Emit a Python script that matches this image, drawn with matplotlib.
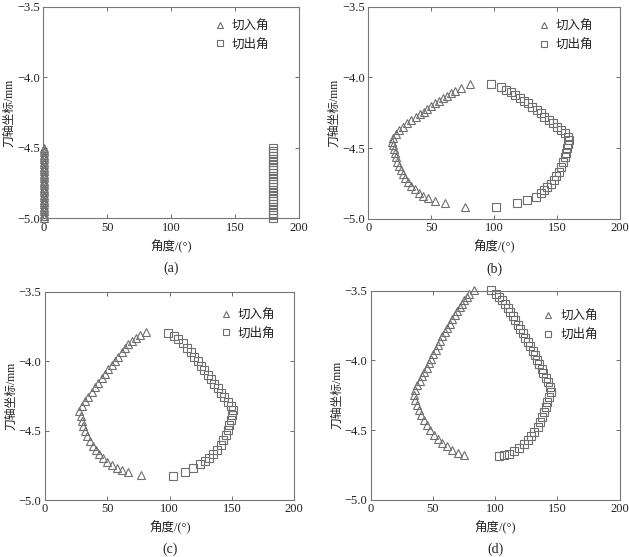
import numpy as np
import matplotlib.pyplot as plt

plt.rcParams['font.family'] = ['Liberation Serif', 'Noto Sans CJK SC']
plt.rcParams['axes.unicode_minus'] = True

# ---- data ----
# (a)
a_in_x = [0.5] * 31
a_in_y = [-4.50, -4.517, -4.533, -4.55, -4.567, -4.583, -4.60, -4.617, -4.633, -4.65,
          -4.667, -4.683, -4.70, -4.717, -4.733, -4.75, -4.767, -4.783, -4.80, -4.817,
          -4.833, -4.85, -4.867, -4.883, -4.90, -4.917, -4.933, -4.95, -4.967, -4.983, -5.00]
a_out_x = [180.0] * 26
a_out_y = [-4.50, -4.52, -4.54, -4.56, -4.58, -4.60, -4.62, -4.64, -4.66, -4.68,
           -4.70, -4.72, -4.74, -4.76, -4.78, -4.80, -4.82, -4.84, -4.86, -4.88,
           -4.90, -4.92, -4.94, -4.96, -4.98, -5.00]

# (b)
b_in_x = [81.1, 73.7, 69.2, 65.8, 62.4, 59.2, 56.1, 52.9, 50.0, 46.9, 44.0, 40.8, 37.7,
          34.3, 30.8, 27.7, 24.5, 21.9, 19.3, 18.5, 19.8, 20.3, 21.1, 21.9, 22.9, 24.2,
          25.8, 27.7, 29.5, 31.6, 34.3, 36.9, 40.0, 43.4, 47.4, 52.7, 60.6, 76.9]
b_in_y = [-4.048, -4.077, -4.096, -4.112, -4.131, -4.147, -4.166, -4.183, -4.201, -4.221,
          -4.242, -4.260, -4.281, -4.300, -4.324, -4.348, -4.371, -4.399, -4.430, -4.453,
          -4.477, -4.508, -4.536, -4.564, -4.595, -4.625, -4.653, -4.684, -4.712, -4.740,
          -4.766, -4.790, -4.814, -4.835, -4.853, -4.870, -4.889, -4.913]
b_out_x = [97.4, 105.8, 109.7, 113.2, 116.6, 120.3, 123.7, 127.1, 130.3, 133.7, 136.9,
           140.0, 143.5, 146.8, 150.0, 153.2, 156.1, 158.7, 159.8, 158.7, 157.9, 157.1,
           156.1, 154.7, 153.2, 151.3, 149.5, 147.4, 144.8, 142.1, 139.5, 136.9, 132.9,
           126.3, 118.4, 101.8]
b_out_y = [-4.048, -4.070, -4.088, -4.105, -4.124, -4.143, -4.164, -4.183, -4.206, -4.230,
           -4.253, -4.277, -4.300, -4.324, -4.348, -4.371, -4.394, -4.418, -4.442, -4.470,
           -4.500, -4.531, -4.564, -4.595, -4.630, -4.665, -4.696, -4.724, -4.752, -4.776,
           -4.795, -4.818, -4.842, -4.865, -4.889, -4.913]

# (c)
c_in_x = [80.8, 76.2, 73.0, 69.5, 66.8, 64.2, 61.5, 58.8, 56.1, 53.5, 50.8, 48.1, 45.5,
          42.8, 40.1, 37.5, 34.7, 32.1, 29.4, 27.5, 28.6, 29.4, 30.7, 32.1, 33.9, 36.1,
          38.3, 40.7, 43.3, 46.3, 49.5, 53.5, 57.5, 61.5, 66.8, 76.8]
c_in_y = [-3.792, -3.812, -3.831, -3.855, -3.879, -3.908, -3.936, -3.968, -3.997, -4.028,
          -4.059, -4.093, -4.124, -4.155, -4.188, -4.220, -4.256, -4.287, -4.323, -4.357,
          -4.393, -4.429, -4.465, -4.501, -4.537, -4.573, -4.609, -4.640, -4.671, -4.700,
          -4.724, -4.748, -4.767, -4.784, -4.796, -4.820]
c_out_x = [98.9, 103.5, 107.0, 110.5, 113.7, 116.9, 119.8, 122.5, 125.1, 127.8, 130.5,
           133.1, 135.8, 138.5, 141.2, 143.8, 146.6, 149.2, 151.1, 150.3, 149.2, 147.9,
           146.6, 145.2, 143.1, 140.9, 138.2, 135.0, 131.8, 128.3, 124.3, 118.9, 112.3, 102.4]
c_out_y = [-3.800, -3.817, -3.841, -3.872, -3.903, -3.936, -3.968, -3.999, -4.033, -4.064,
           -4.100, -4.131, -4.162, -4.195, -4.227, -4.260, -4.292, -4.323, -4.352, -4.388,
           -4.424, -4.460, -4.496, -4.532, -4.568, -4.604, -4.640, -4.671, -4.695, -4.719,
           -4.743, -4.767, -4.796, -4.825]

# (d)
d_in_x = [82.9, 79.4, 77.3, 75.4, 73.6, 71.4, 69.6, 67.4, 65.6, 63.4, 61.6, 59.7, 57.6,
          56.0, 54.1, 52.2, 50.4, 48.8, 46.9, 45.0, 43.2, 41.3, 39.4, 37.6, 35.4, 34.6,
          36.0, 37.3, 38.9, 40.8, 42.9, 45.3, 48.0, 50.9, 54.1, 57.6, 61.3, 65.6, 70.1, 75.4]
d_in_y = [-3.497, -3.521, -3.545, -3.569, -3.593, -3.617, -3.645, -3.677, -3.705, -3.737,
          -3.767, -3.796, -3.827, -3.861, -3.891, -3.923, -3.956, -3.987, -4.018, -4.052,
          -4.083, -4.114, -4.147, -4.178, -4.214, -4.250, -4.286, -4.322, -4.357, -4.393,
          -4.429, -4.465, -4.501, -4.532, -4.561, -4.590, -4.615, -4.640, -4.661, -4.680]
d_out_x = [96.8, 100.8, 103.4, 105.6, 108.0, 110.1, 112.2, 114.1, 116.2, 118.1, 120.0,
           122.1, 124.0, 126.1, 128.0, 130.1, 132.0, 133.6, 135.4, 137.3, 138.9, 140.8,
           142.6, 144.2, 144.8, 143.4, 142.1, 140.8, 139.4, 138.1, 136.2, 134.1, 131.4,
           128.8, 126.1, 122.9, 119.4, 115.4, 111.4, 107.4, 103.4]
d_out_y = [-3.497, -3.521, -3.545, -3.569, -3.598, -3.624, -3.653, -3.684, -3.712, -3.744,
           -3.772, -3.803, -3.837, -3.868, -3.899, -3.932, -3.963, -3.995, -4.028, -4.059,
           -4.090, -4.124, -4.155, -4.190, -4.226, -4.262, -4.298, -4.334, -4.370, -4.405,
           -4.441, -4.477, -4.513, -4.544, -4.573, -4.601, -4.626, -4.649, -4.669, -4.680,
           -4.685]

xticks = [0, 50, 100, 150, 200]
yticks = [-5.0, -4.5, -4.0, -3.5]
captions = ['(a)', '(b)', '(c)', '(d)']
label_in = '切入角'
label_out = '切出角'

W, H = 629, 557
fig = plt.figure(figsize=(W / 100, H / 100), dpi=100)

# axes boxes in pixels: left, right, top, bottom
boxes = [(43.3, 299, 6.7, 218.3), (368.3, 620, 6.7, 219),
         (45, 294.3, 291.7, 500), (370.7, 619.5, 290.7, 500)]
leg_anchor = [(0.885, 0.935), (0.895, 0.935), (0.925, 0.915), (0.915, 0.905)]

panels = [(a_in_x, a_in_y, a_out_x, a_out_y), (b_in_x, b_in_y, b_out_x, b_out_y),
          (c_in_x, c_in_y, c_out_x, c_out_y), (d_in_x, d_in_y, d_out_x, d_out_y)]

gray = '#6e6e6e'
for i, (ix, iy, ox, oy) in enumerate(panels):
    l, r, t, b = boxes[i]
    ax = fig.add_axes([l / W, (H - b) / H, (r - l) / W, (b - t) / H])
    ax.plot(ix, iy, linestyle='none', marker='^', markersize=6.3, markerfacecolor='none',
            markeredgecolor=gray, markeredgewidth=0.8, label=label_in, clip_on=False)
    ax.plot(ox, oy, linestyle='none', marker='s', markersize=5.2, markerfacecolor='none',
            markeredgecolor=gray, markeredgewidth=0.8, label=label_out, clip_on=False)
    ax.set_xlim(0, 200)
    ax.set_ylim(-5.0, -3.5)
    ax.set_xticks(xticks)
    ax.set_yticks(yticks)
    ax.set_yticklabels(['−5.0', '−4.5', '−4.0', '−3.5'])
    ax.tick_params(direction='in', top=True, right=True, length=3, width=0.6,
                   colors='#555555', labelcolor='#222222', labelsize=9, pad=2.5)
    for s in ax.spines.values():
        s.set_color('#777777')
        s.set_linewidth(0.8)
    ax.set_xlabel('角度/(°)', fontsize=9, color='#222222', labelpad=4)
    ax.set_ylabel('刀轴坐标/mm', fontsize=8.5, color='#222222', labelpad=1)
    ax.text(0.5, -0.235, captions[i], transform=ax.transAxes, ha='center', va='center',
            fontsize=10, color='#222222')
    ax.legend(loc='upper right', bbox_to_anchor=leg_anchor[i], frameon=False,
              fontsize=9, handlelength=1.0, handletextpad=0.5, borderpad=0,
              borderaxespad=0, labelspacing=0.5, labelcolor='#222222',
              markerscale=0.75)

fig.savefig('out.png', dpi=100)
